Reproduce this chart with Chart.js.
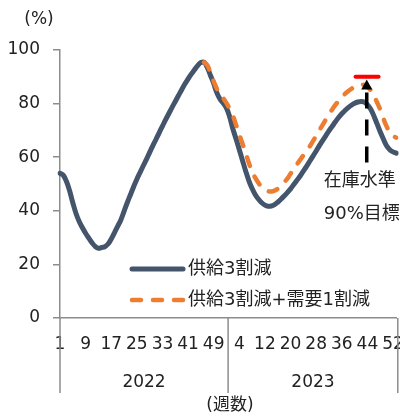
<!DOCTYPE html>
<html>
<head>
<meta charset="utf-8">
<script src="https://cdn.jsdelivr.net/npm/chart.js@4.4.1/dist/chart.umd.min.js"></script>
<style>
  html, body { margin: 0; padding: 0; background: #fff; }
  #wrap { width: 400px; height: 416px; overflow: hidden; }
  canvas { display: block; }
</style>
</head>
<body>
<div id="wrap"><canvas id="stockChart" width="420" height="416"></canvas></div>
<script>
// -------- Data --------
const years = ['2022', '2023'];
const weeksPerYear = [53, 53];
const labelStep = 8;

// 供給3割減 (weekly stock level, %)
const supplyCut = [
  54, 53.3, 51, 47.5, 43, 39, 36, 33.7, 31.6, 29.8, 28.1, 26.7, 26, 26.3, 26.6, 27.6,
  29.5, 31.8, 34.2, 36.6, 39.8, 43, 46, 49, 51.8, 54.3, 56.8, 59.2, 61.8, 64.3, 66.7,
  69.2, 71.6, 74, 76.3, 78.6, 80.8, 83, 85.2, 87.3, 89.2, 91, 92.6, 94.2, 95.3, 95.4,
  93.5, 90.5, 87.5, 84, 81.6, 80.1, 78.3, 75, 70.5, 66.8, 62.8, 58.8, 54.8, 51.2, 48.3, 46, 44.3, 43, 42.1, 41.7,
  41.8, 42.3, 43.2, 44.3, 45.5, 46.8, 48.2, 49.8, 51.4, 53, 54.8, 56.6, 58.5, 60.4, 62.3,
  64.3, 66.2, 68, 69.8, 71.5, 73.2, 74.8, 76.2, 77.4, 78.5, 79.4, 80.1, 80.6, 80.8,
  80.6, 79.6, 78, 75.5, 72.5, 69.5, 66.8, 64.3, 62.8, 62, 61.5
];

// 供給3割減+需要1割減, starts at the 2022 peak
const demandStart = 45;
const demandCut = [
  95.4, 94.3, 91.5, 88.3, 85.5, 83.5, 82, 80.2, 78, 75.5, 72, 68.5, 65, 61.5, 57.8,
  54.6, 52.3, 50.4, 48.8, 47.8, 47.3, 47.2, 47.5, 48.2, 49.3, 50.6,
  52, 53.8, 55.5, 57.3, 59, 60.7, 62.4, 64, 66, 68, 70, 72, 74, 76, 77.8, 79.5,
  81, 82.4, 83.6, 84.6, 85.5, 86.2, 86.7, 87, 87, 86.3, 85, 83, 80.5, 77.8,
  74.5, 71.5, 69.3, 68, 67.3
];

// target annotation
const targetLevel = 90;
const targetFrom = 92.3;
const targetTo = 99.5;
const arrowWeek = 95.8;
const arrowFrom = 56;
const arrowTo = 89;
const noteLines = ['在庫水準', '90%目標'];

const seriesNames = ['供給3割減', '供給3割減+需要1割減'];

// -------- Build categories --------
const weekLabels = [];
weeksPerYear.forEach(n => {
  for (let w = 1; w <= n; w++) weekLabels.push(String(w));
});
const demandData = weekLabels.map((_, i) => i < demandStart ? null : demandCut[i - demandStart]);

const FONT = "'DejaVu Sans', 'Noto Sans CJK JP', sans-serif";
const AXIS_GRAY = '#8c8c8c';
const TEXT = '#222';

Chart.defaults.font.family = FONT;
Chart.defaults.color = TEXT;

// -------- Extra drawing: year groups, titles, legend, target --------
const decorations = {
  id: 'decorations',
  afterDatasetsDraw(chart) {
    const { ctx, scales: { x, y } } = chart;
    ctx.save();

    // red 90% target bar
    const ty = y.getPixelForValue(targetLevel);
    ctx.strokeStyle = '#ff0000';
    ctx.lineWidth = 4;
    ctx.lineCap = 'round';
    ctx.beginPath();
    ctx.moveTo(x.getPixelForValue(targetFrom), ty);
    ctx.lineTo(x.getPixelForValue(targetTo), ty);
    ctx.stroke();

    // dashed arrow up to the target
    const ax = x.getPixelForValue(arrowWeek);
    const tipY = y.getPixelForValue(arrowTo);
    const baseY = tipY + 10;
    ctx.strokeStyle = '#000';
    ctx.lineWidth = 3.5;
    ctx.lineCap = 'butt';
    ctx.setLineDash([16, 11]);
    ctx.beginPath();
    ctx.moveTo(ax, baseY + 3);
    ctx.lineTo(ax, y.getPixelForValue(arrowFrom));
    ctx.stroke();
    ctx.setLineDash([]);
    ctx.fillStyle = '#000';
    ctx.beginPath();
    ctx.moveTo(ax, tipY);
    ctx.lineTo(ax - 5.5, baseY);
    ctx.lineTo(ax + 5.5, baseY);
    ctx.closePath();
    ctx.fill();

    ctx.font = '18px ' + FONT;
    ctx.fillStyle = TEXT;
    ctx.textAlign = 'left';
    ctx.textBaseline = 'middle';
    ctx.fillText(noteLines[0], ax - 43, 181);
    ctx.fillText(noteLines[1], ax - 43, 214);

    // legend inside the plot
    const rows = [269, 300];
    chart.data.datasets.forEach((ds, i) => {
      ctx.strokeStyle = ds.borderColor;
      ctx.lineWidth = ds.borderWidth;
      ctx.lineCap = 'round';
      ctx.setLineDash(ds.borderDash || []);
      ctx.beginPath();
      ctx.moveTo(132, rows[i]);
      ctx.lineTo(183, rows[i]);
      ctx.stroke();
      ctx.setLineDash([]);
      ctx.font = '18px ' + FONT;
      ctx.fillStyle = TEXT;
      ctx.fillText(ds.label, 188, rows[i]);
    });

    ctx.restore();
  },
  afterDraw(chart) {
    const { ctx, scales: { x, y } } = chart;
    const bottom = 393;
    ctx.save();
    ctx.strokeStyle = AXIS_GRAY;
    ctx.lineWidth = 1.5;

    // group separators below the axis
    const edges = [x.left];
    let start = 0;
    weeksPerYear.forEach(n => {
      start += n;
      edges.push(x.getPixelForValue(start - 0.5));
    });
    edges.forEach(px => {
      ctx.beginPath();
      ctx.moveTo(px, y.bottom);
      ctx.lineTo(px, bottom);
      ctx.stroke();
    });

    ctx.font = '17px ' + FONT;
    ctx.fillStyle = TEXT;
    ctx.textAlign = 'center';
    ctx.textBaseline = 'middle';
    years.forEach((yr, i) => {
      ctx.fillText(yr, (edges[i] + edges[i + 1]) / 2, 383);
    });

    // axis titles
    ctx.fillText('(週数)', (x.left + 400) / 2, 406);
    ctx.fillText('(%)', 39, 20);
    ctx.restore();
  }
};

// -------- Chart --------
new Chart(document.getElementById('stockChart'), {
  type: 'line',
  data: {
    labels: weekLabels,
    datasets: [
      {
        label: seriesNames[0],
        data: supplyCut,
        borderColor: '#44546a',
        borderWidth: 5,
        borderCapStyle: 'round',
        borderJoinStyle: 'round',
        pointRadius: 0,
        tension: 0.4,
        order: 1
      },
      {
        label: seriesNames[1],
        data: demandData,
        borderColor: '#ed7d31',
        borderWidth: 4.5,
        borderDash: [9, 12],
        borderCapStyle: 'round',
        pointRadius: 0,
        tension: 0.4,
        order: 0
      }
    ]
  },
  options: {
    responsive: false,
    animation: false,
    devicePixelRatio: 1,
    layout: { padding: { top: 50, right: 20, left: 0, bottom: 0 } },
    plugins: {
      legend: { display: false },
      tooltip: { enabled: false }
    },
    scales: {
      x: {
        type: 'category',
        offset: false,
        grid: { display: false, drawTicks: false },
        border: { display: true, color: AXIS_GRAY, width: 1.5 },
        ticks: {
          autoSkip: false,
          maxRotation: 0,
          minRotation: 0,
          padding: 16,
          font: { size: 17 },
          color: TEXT,
          callback(value, index) {
            return index % labelStep === 0 ? weekLabels[index] : null;
          }
        },
        afterFit(scale) { scale.height = 98; }
      },
      y: {
        min: 0,
        max: 100,
        grid: { drawOnChartArea: false, drawTicks: true, tickLength: 7, color: AXIS_GRAY, lineWidth: 1.5 },
        border: { display: true, color: AXIS_GRAY, width: 1.5 },
        ticks: { stepSize: 20, padding: 13, font: { size: 17 }, color: TEXT },
        afterFit(scale) { scale.width = 60; }
      }
    }
  },
  plugins: [decorations]
});
</script>
</body>
</html>
